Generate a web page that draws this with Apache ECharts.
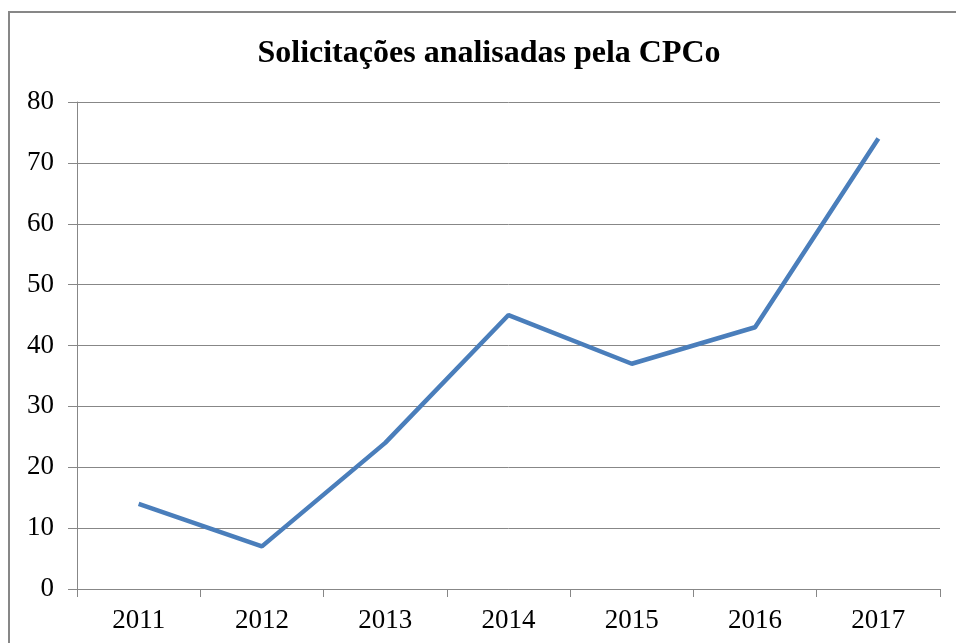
<!DOCTYPE html>
<html>
<head>
<meta charset="utf-8">
<script src="https://cdn.jsdelivr.net/npm/echarts@6/dist/echarts.min.js"></script>
<style>
  html, body { margin: 0; padding: 0; background: #fff; }
  #chart { width: 956px; height: 643px; }
</style>
</head>
<body>
<div id="chart"></div>
<script>
var years = ["2011", "2012", "2013", "2014", "2015", "2016", "2017"];
var solicitacoes = [14, 7, 24, 45, 37, 43, 74];
var yTicks = { min: 0, max: 80, interval: 10 };

var chartDom = document.getElementById("chart");
var myChart = echarts.init(chartDom);
var fontFamily = "'Liberation Serif', 'DejaVu Serif', serif";

var option = {
  animation: false,
  graphic: [
    {
      type: "rect",
      shape: { x: 9, y: 12, width: 1000, height: 700 },
      style: { fill: "none", stroke: "#878787", lineWidth: 2 },
      z: -1
    }
  ],
  title: {
    text: "Solicitações analisadas pela CPCo",
    left: 484,
    top: 33,
    textAlign: "center",
    textStyle: {
      fontFamily: fontFamily,
      fontWeight: "bold",
      fontSize: 32,
      color: "#000"
    }
  },
  grid: {
    left: 77,
    right: 16,
    top: 102,
    bottom: 54
  },
  xAxis: {
    type: "category",
    data: years,
    boundaryGap: true,
    axisLine: { lineStyle: { color: "#878787", width: 1 } },
    axisTick: { show: true, length: 8, lineStyle: { color: "#878787" } },
    axisLabel: {
      margin: 18,
      fontFamily: fontFamily,
      fontSize: 27,
      color: "#000"
    }
  },
  yAxis: {
    type: "value",
    min: yTicks.min,
    max: yTicks.max,
    interval: yTicks.interval,
    axisLine: { show: true, lineStyle: { color: "#878787", width: 1 } },
    axisTick: { show: true, length: 9, lineStyle: { color: "#878787" } },
    axisLabel: {
      margin: 23,
      fontFamily: fontFamily,
      fontSize: 27,
      color: "#000"
    },
    splitLine: { show: true, lineStyle: { color: "#878787", width: 1 } }
  },
  series: [
    {
      name: "Solicitações",
      type: "line",
      data: solicitacoes,
      symbol: "none",
      lineStyle: { color: "#4A7EBB", width: 4.5 },
      itemStyle: { color: "#4A7EBB" }
    }
  ]
};

myChart.setOption(option);
</script>
</body>
</html>
